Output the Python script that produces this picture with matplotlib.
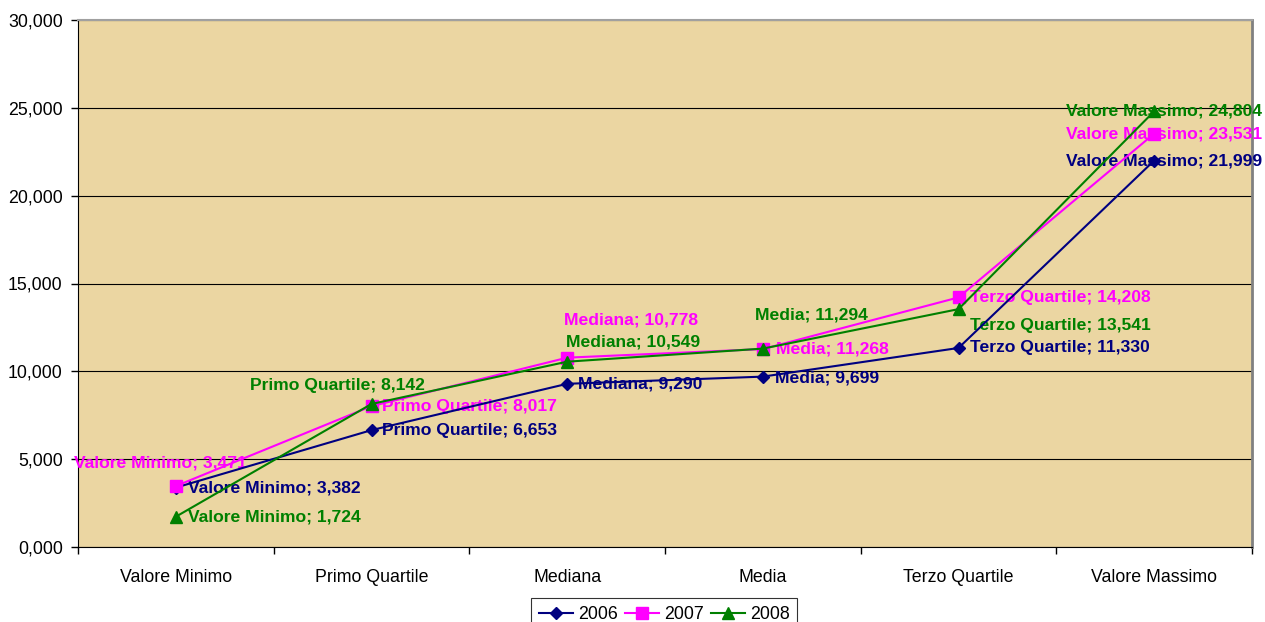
import matplotlib
matplotlib.use("Agg")
import matplotlib.pyplot as plt
from matplotlib.ticker import FuncFormatter, FixedLocator

plt.rcParams['font.family'] = ['Liberation Sans', 'DejaVu Sans']

categories = ["Valore Minimo", "Primo Quartile", "Mediana", "Media", "Terzo Quartile", "Valore Massimo"]
years = ["2006", "2007", "2008"]
v2006 = [3382, 6653, 9290, 9699, 11330, 21999]
v2007 = [3471, 8017, 10778, 11268, 14208, 23531]
v2008 = [1724, 8142, 10549, 11294, 13541, 24804]
y_ticks = [0, 5000, 10000, 15000, 20000, 25000, 30000]

series = [v2006, v2007, v2008]
colors = ["#000080", "#FF00FF", "#008000"]
markers = ["D", "s", "^"]
msizes = [6, 8, 8]

# label placement (offset in pixels, horizontal alignment)
label_pos = [
    [(12, 0, 'left'), (11, 0, 'left'), (11, 0, 'left'), (12, -1, 'left'), (12, 0, 'left'), (108, 0, 'right')],
    [(-102, 23, 'left'), (11, 0, 'left'), (64, 38, 'center'), (13, 0, 'left'), (12, 0, 'left'), (108, 0, 'right')],
    [(12, 0, 'left'), (-34, 18, 'center'), (66, 20, 'center'), (49, 34, 'center'), (12, -16, 'left'), (108, 0, 'right')],
]

fig = plt.figure(figsize=(12.65, 6.22), dpi=100)
ax = fig.add_axes([78/1265, 1-547/622, (1252-78)/1265, (547-20)/622])
ax.set_facecolor("#EBD6A2")

x = list(range(len(categories)))
for vals, c, m, ms, yr, lp in zip(series, colors, markers, msizes, years, label_pos):
    ax.plot(x, vals, color=c, marker=m, markersize=ms, linewidth=1.5, label=yr, zorder=4, clip_on=False)
    for xi, v, cat, (dx, dy, ha) in zip(x, vals, categories, lp):
        txt = f"{cat}; {v:,}"
        ax.annotate(txt, (xi, v), xytext=(dx, dy), textcoords='offset pixels',
                    ha=ha, va='center', fontsize=12.6, fontweight='bold', color=c,
                    zorder=3, annotation_clip=False)

ax.set_xlim(-0.5, len(categories) - 0.5)
ax.set_ylim(0, 30000)
ax.set_yticks(y_ticks)
ax.yaxis.set_major_formatter(FuncFormatter(lambda v, p: f"{int(v/1000)},000" if v else "0,000"))
ax.grid(axis='y', color='black', linewidth=0.8, zorder=1)
ax.set_axisbelow(True)

ax.set_xticks(x)
ax.set_xticklabels(categories)
ax.xaxis.set_minor_locator(FixedLocator([i - 0.5 for i in range(len(categories) + 1)]))
ax.tick_params(axis='x', which='major', length=0, pad=16, labelsize=12.8)
ax.tick_params(axis='x', which='minor', length=5, width=1, color='black', direction='out')
ax.tick_params(axis='y', length=5, width=1, color='black', pad=6, labelsize=12.8)

ax.spines['left'].set_color('black')
ax.spines['bottom'].set_color('black')
ax.spines['top'].set_color('#A0A0A0')
ax.spines['top'].set_linewidth(1.5)
ax.spines['right'].set_color('#808080')
ax.spines['right'].set_linewidth(2)

leg = fig.legend(loc='upper center', bbox_to_anchor=(664/1265, 1-598/622), ncol=3,
                 frameon=True, fancybox=False, fontsize=12.8, handlelength=1.95,
                 handletextpad=0.25, columnspacing=0.4, borderpad=0.45, borderaxespad=0)
leg.get_frame().set_edgecolor('black')
leg.get_frame().set_linewidth(0.8)

fig.savefig("out.png", dpi=100)
